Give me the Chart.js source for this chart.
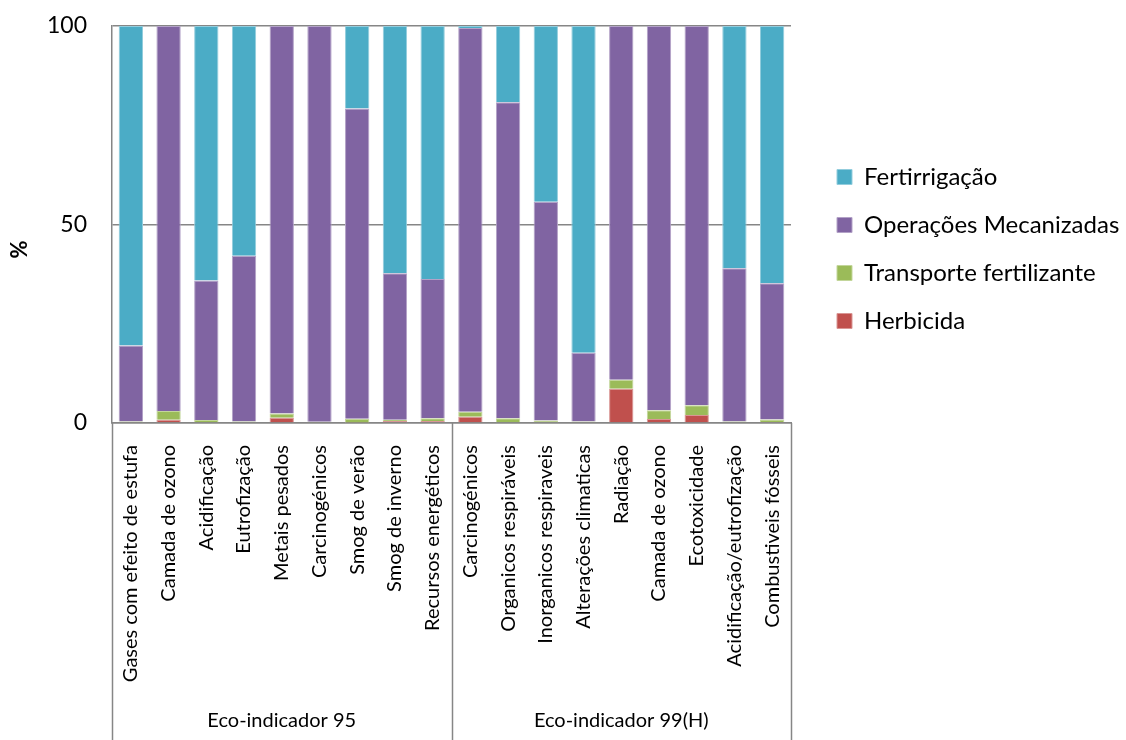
<!DOCTYPE html>
<html>
<head>
<meta charset="utf-8">
<script src="https://cdn.jsdelivr.net/npm/chart.js@4.4.1/dist/chart.umd.min.js"></script>
<style>
html,body{margin:0;padding:0;background:#fff;}
#wrap{width:1126px;height:740px;position:relative;}
</style>
</head>
<body>
<div id="wrap"><canvas id="c" width="1126" height="740"></canvas></div>
<script>
const categories = [
  'Gases com efeito de estufa','Camada de ozono','Acidificação','Eutrofização','Metais pesados',
  'Carcinogénicos','Smog de verão','Smog de inverno','Recursos energéticos',
  'Carcinogénicos','Organicos respiráveis','Inorganicos respiraveis','Alterações climaticas',
  'Radiação','Camada de ozono','Ecotoxicidade','Acidificação/eutrofização','Combustiveis fósseis'
];
const groups = ['Eco-indicador 95','Eco-indicador 99(H)'];
const herbicida   = [0, 0.8, 0, 0, 1.3, 0, 0.1, 0.5, 0.5, 1.6, 0, 0, 0, 8.6, 1.0, 2.0, 0, 0.25];
const transporte  = [0.4, 2.2, 0.75, 0.4, 1.1, 0.3, 1.0, 0.35, 0.7, 1.25, 1.2, 0.6, 0.35, 2.3, 2.2, 2.5, 0.4, 0.65];
const operacoes   = [19.1, 97.0, 35.15, 41.7, 97.6, 99.7, 78.1, 36.85, 35.1, 96.65, 79.6, 55.1, 17.35, 89.1, 96.8, 95.5, 38.6, 34.3];
const fertirrigacao = [80.5, 0, 64.1, 57.9, 0, 0, 20.8, 62.3, 63.7, 0.5, 19.2, 44.3, 82.3, 0, 0, 0, 61.0, 64.8];
const yTicks = [0, 50, 100];

const FONT = 'Lato, "Open Sans", sans-serif';
const AXIS = '#868686';

const separators = {
  id: 'separators',
  beforeInit(chart) {
    const lg = chart.legend;
    if (lg) {
      const orig = lg.fit;
      lg.fit = function () { orig.call(this); this.width = 335; };
    }
  },
  afterLayout(chart) {
    const lg = chart.legend;
    if (lg) { lg.left += 22; lg.right += 22; lg.top += 115; lg.bottom += 115; }
    const y = chart.scales.y;
    if (y && !y._titleShifted) {
      const origTitle = y.drawTitle;
      y.drawTitle = function () {
        const ctx = this.ctx;
        ctx.save();
        ctx.translate(0, 25);
        origTitle.call(this);
        ctx.restore();
      };
      y._titleShifted = true;
    }
  },
  afterDraw(chart) {
    const x = chart.scales.x, ctx = chart.ctx;
    const n = categories.length, half = n / 2;
    const mid = (x.getPixelForValue(half - 1) + x.getPixelForValue(half)) / 2;
    ctx.save();
    ctx.strokeStyle = AXIS;
    ctx.lineWidth = 1.5;
    [x.left, mid, x.right].forEach(px => {
      ctx.beginPath();
      ctx.moveTo(Math.round(px) + 0.5, chart.chartArea.bottom);
      ctx.lineTo(Math.round(px) + 0.5, chart.height);
      ctx.stroke();
    });
    ctx.restore();
  }
};

function ds(label, data, color, border) {
  return { label, data, backgroundColor: color, borderColor: border, borderWidth: 1,
           barPercentage: 0.645, categoryPercentage: 1, stack: 's' };
}

new Chart(document.getElementById('c'), {
  type: 'bar',
  data: {
    labels: categories,
    datasets: [
      ds('Herbicida', herbicida, '#C0504D', '#D99694'),
      ds('Transporte fertilizante', transporte, '#9BBB59', '#C3D69B'),
      ds('Operações Mecanizadas', operacoes, '#8064A2', '#B3A2C7'),
      ds('Fertirrigação', fertirrigacao, '#4BACC6', '#93CDDD')
    ]
  },
  options: {
    responsive: false,
    animation: false,
    devicePixelRatio: 1,
    layout: { padding: { top: 26, left: 0, right: 0, bottom: 0 } },
    plugins: {
      legend: {
        position: 'right',
        align: 'start',
        reverse: true,
        labels: {
          boxWidth: 15, boxHeight: 15, padding: 24, color: '#000',
          font: { family: FONT, size: 24 }
        }
      },
      tooltip: { enabled: false }
    },
    scales: {
      x: {
        stacked: true,
        grid: { display: false },
        border: { display: true, color: AXIS, width: 1.5 },
        ticks: {
          autoSkip: false, minRotation: 90, maxRotation: 90, padding: 14, color: '#000',
          font: { family: FONT, size: 20 }
        },
        afterFit(s) { s.height = 264; }
      },
      x2: {
        type: 'category',
        labels: groups,
        position: 'bottom',
        offset: true,
        grid: { display: false },
        border: { display: false },
        ticks: { padding: 14, color: '#000', font: { family: FONT, size: 20 } },
        afterFit(s) { s.height = 53; }
      },
      y: {
        stacked: true,
        min: 0, max: 100,
        afterBuildTicks(s) { s.ticks = yTicks.map(v => ({ value: v })); },
        grid: { color: AXIS, lineWidth: 1.5, drawTicks: false },
        border: { display: true, color: AXIS, width: 1.5 },
        ticks: { padding: 25, color: '#000', font: { family: FONT, size: 23 } },
        title: { display: true, text: '%', color: '#000', padding: { top: 7, bottom: 0 },
                 font: { family: FONT, size: 22, weight: 'bold' } },
        afterFit(s) { s.width = 112; s.paddingTop = 0; s.paddingBottom = 0; }
      }
    }
  },
  plugins: [separators]
});
</script>
</body>
</html>
